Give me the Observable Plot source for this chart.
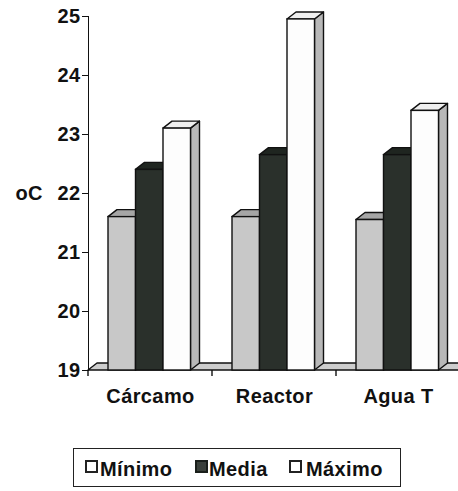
<!DOCTYPE html>
<html>
<head>
<meta charset="utf-8">
<script src="https://cdn.jsdelivr.net/npm/d3@7"></script>
<script src="https://cdn.jsdelivr.net/npm/@observablehq/plot@0.6"></script>
<style>
  body { margin: 0; background: #fff; font-family: "Liberation Sans", Arial, sans-serif; color: #111; }
  #wrap { position: relative; width: 458px; height: 491px; overflow: hidden; }
  #chart { position: absolute; left: 0; top: 0; }
  .legend { position: absolute; left: 73px; top: 448px; width: 328px; height: 39px; border: 1.5px solid #222; box-sizing: border-box; }
  .item { position: absolute; top: 10px; font-size: 20px; font-weight: bold; letter-spacing: 0.4px; line-height: 20px; white-space: nowrap; color: #111; }
  .ico { position: absolute; top: 11px; width: 13px; height: 13px; box-sizing: border-box; }
</style>
</head>
<body>
<div id="wrap">
  <div id="chart"></div>
  <div class="legend" id="legend"></div>
</div>
<script>
// ---- data ----
const categories = ["Cárcamo", "Reactor", "Agua T"];
const series = ["Mínimo", "Media", "Máximo"];
const minimo = [21.6, 21.6, 21.55];
const media = [22.4, 22.65, 22.65];
const maximo = [23.1, 24.95, 23.4];
const yTicks = [19, 20, 21, 22, 23, 24, 25];
const yLabel = "oC";

// styles (not data)
const frontFill = {"Mínimo": "#c8c8c8", "Media": "#2a302b", "Máximo": "#fdfdfd"};
const topFill = {"Mínimo": "#a6a6a6", "Media": "#1f2520", "Máximo": "#efefef"};
const sideFill = {"Mínimo": "#b0b0b0", "Media": "#222", "Máximo": "#b8b8b8"};

const valuesBySeries = {"Mínimo": minimo, "Media": media, "Máximo": maximo};
const rows = [];
series.forEach((s, si) => categories.forEach((c, ci) => rows.push({cat: c, series: s, si, value: valuesBySeries[s][ci]})));

const BAND = 124, OFF = 20, BW = 27.5, DX = 9, DY = -7;
const base = yTicks[0];

function threeD(index, scales, values, dimensions) {
  const x = scales.x, y = scales.y;
  const g = d3.create("svg:g").attr("stroke", "#111").attr("stroke-width", 1.4).attr("stroke-linejoin", "round");
  const y0 = y(base);
  const left = dimensions.marginLeft, right = dimensions.width;
  // floor
  g.append("path").attr("fill", "#cdcdcd")
    .attr("d", `M${left},${y0}L${left + DX},${y0 + DY}L${right + 20},${y0 + DY}L${right + 20},${y0}Z`);
  // faces
  for (const r of rows) {
    const x0 = x(r.cat) + OFF + r.si * BW, x1 = x0 + BW, yt = y(r.value);
    g.append("path").attr("fill", sideFill[r.series])
      .attr("d", `M${x1},${yt}L${x1 + DX},${yt + DY}L${x1 + DX},${y0 + DY}L${x1},${y0}Z`);
    g.append("path").attr("fill", topFill[r.series])
      .attr("d", `M${x0},${yt}L${x0 + DX},${yt + DY}L${x1 + DX},${yt + DY}L${x1},${yt}Z`);
  }
  // boundary ticks
  for (const c of categories) {
    const xb = x(c);
    g.append("line").attr("x1", xb).attr("x2", xb).attr("y1", y0).attr("y2", y0 + 6);
  }
  return g.node();
}

const barMarks = series.map((s, si) => Plot.barY(rows.filter(r => r.series === s), {
  x: "cat", y1: () => base, y2: "value",
  insetLeft: OFF + si * BW, insetRight: BAND - OFF - (si + 1) * BW,
  fill: frontFill[s], stroke: "#111", strokeWidth: 1.4
}));

const chart = Plot.plot({
  width: 458, height: 430,
  marginTop: 16, marginBottom: 60, marginLeft: 88, marginRight: -2,
  style: {fontFamily: "'Liberation Sans', Arial, sans-serif", fontSize: "20px", fontWeight: "bold", color: "#111", background: "#fff", letterSpacing: "0.4px"},
  x: {domain: categories, padding: 0, tickSize: 0, tickPadding: 18, label: null},
  y: {domain: [19, 25], ticks: yTicks, tickSize: 6, tickPadding: 2, label: null, line: true, tickFormat: d => String(d)},
  marks: [
    threeD,
    ...barMarks,
    Plot.text([yLabel], {frameAnchor: "left", dx: -73, textAnchor: "start", fontSize: 20, fontWeight: "bold", fill: "#111"})
  ]
});
document.getElementById("chart").appendChild(chart);

// legend
const legend = document.getElementById("legend");
const legPos = [{ico: 11, txt: 26}, {ico: 121, txt: 135}, {ico: 215, txt: 232}];
const icoStyle = {
  "Mínimo": "background:#fff;border:2.5px solid #222;",
  "Media": "background:#3a403b;border:2px solid #1a1f1b;",
  "Máximo": "background:#fff;border:2px solid #222;"
};
series.forEach((s, i) => {
  const ic = document.createElement("div");
  ic.className = "ico";
  ic.style.cssText = icoStyle[s] + `left:${legPos[i].ico}px;`;
  legend.appendChild(ic);
  const t = document.createElement("div");
  t.className = "item";
  t.style.left = legPos[i].txt + "px";
  t.textContent = s;
  legend.appendChild(t);
});
</script>
</body>
</html>
